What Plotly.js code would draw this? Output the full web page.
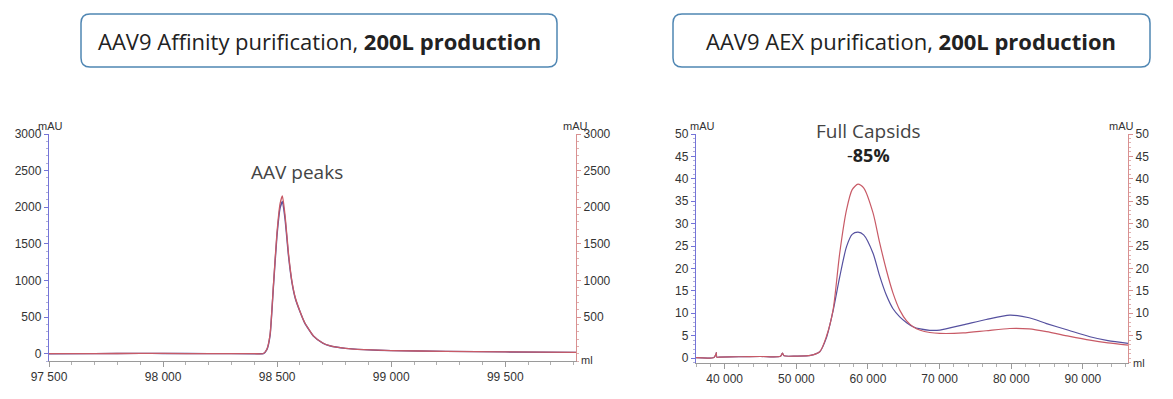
<!DOCTYPE html>
<html>
<head>
<meta charset="utf-8">
<script src="https://cdn.plot.ly/plotly-3.0.1.min.js"></script>
<style>html,body{margin:0;padding:0;background:#fff;}#chart{width:1173px;height:399px;}</style>
</head>
<body>
<div id="chart"></div>
<script>
// ---- Affinity chromatogram (ml, mAU) ----
const affVolume = [97500, 97700, 97900, 98000, 98200, 98400, 98440, 98455, 98469, 98484, 98499, 98513, 98523, 98535, 98550, 98565, 98580, 98600, 98620, 98660, 98700, 98730, 98800, 98880, 99000, 99240, 99500, 99810];
const affBlue   = [0, 1, 4, 3, 1, 0, 2, 55, 250, 930, 1600, 1990, 2078, 1830, 1330, 970, 750, 575, 425, 238, 145, 108, 72, 55, 42, 32, 24, 18];
const affRed    = [0, 1, 4, 3, 1, 0, 2, 60, 262, 950, 1640, 2050, 2155, 1880, 1360, 985, 760, 580, 430, 240, 146, 110, 73, 55, 42, 32, 24, 18];

// ---- AEX chromatogram (ml, mAU) ----
const aexVolume = [36000, 38500, 38800, 38840, 38900, 39200, 42000, 45000, 47800, 48060, 48300, 50000, 52000, 53270, 54200, 55130, 56060, 57000, 57800, 58617, 59400, 60710, 61600, 62580, 63500, 64440, 65400, 66300, 67300, 68630, 70030, 73280, 76500, 79800, 82500, 84930, 88000, 90980, 93500, 96300];
const aexBlue   = [0.1, 0.15, 0.9, 1.2, 0.2, 0.2, 0.3, 0.35, 0.4, 1.1, 0.5, 0.45, 0.6, 1.4, 4.5, 10.5, 18.1, 24.8, 27.6, 28.1, 27.5, 23.4, 18.5, 14.0, 11.0, 9.2, 7.9, 7.0, 6.5, 6.2, 6.25, 7.4, 8.6, 9.6, 9.0, 7.7, 6.2, 4.75, 3.9, 3.3];
const aexRed    = [0.1, 0.15, 0.9, 1.2, 0.2, 0.2, 0.3, 0.35, 0.4, 1.1, 0.5, 0.45, 0.6, 1.4, 4.8, 10.7, 23.4, 33.0, 37.6, 38.8, 38.0, 32.4, 26.0, 19.6, 14.5, 10.7, 8.3, 7.0, 6.2, 5.7, 5.5, 5.6, 6.1, 6.6, 6.5, 5.9, 4.9, 4.0, 3.4, 2.9];

// ---- tick labels ----
const affXTicks = [97500, 98000, 98500, 99000, 99500];
const affXLabels = ['97 500', '98 000', '98 500', '99 000', '99 500'];
const affYTicks = [0, 500, 1000, 1500, 2000, 2500, 3000];
const aexXTicks = [40000, 50000, 60000, 70000, 80000, 90000];
const aexXLabels = ['40 000', '50 000', '60 000', '70 000', '80 000', '90 000'];
const aexYTicks = [0, 5, 10, 15, 20, 25, 30, 35, 40, 45, 50];

const titleLeft = 'AAV9 Affinity purification, <b>200L production</b>';
const titleRight = 'AAV9 AEX purification, <b>200L production</b>';

const W = 1173, H = 399;
const px = v => v / W;
const py = v => 1 - v / H;

const BLUE = '#55509f', RED = '#c85a66';
const BLUEAX = '#7474d8', REDAX = '#d99090';
const tickFont = {family: 'Liberation Sans, Arial, sans-serif', size: 12, color: '#333'};
const textFont = 'Open Sans, Lato, sans-serif';

const traces = [
  {x: affVolume, y: affBlue, xaxis: 'x', yaxis: 'y', mode: 'lines', line: {color: BLUE, width: 1.4, shape: 'spline', smoothing: 0.5}, hoverinfo: 'skip'},
  {x: affVolume, y: affRed, xaxis: 'x', yaxis: 'y3', mode: 'lines', line: {color: RED, width: 1.3, shape: 'spline', smoothing: 0.5}, hoverinfo: 'skip'},
  {x: aexVolume, y: aexBlue, xaxis: 'x2', yaxis: 'y2', mode: 'lines', line: {color: BLUE, width: 1.2, shape: 'spline', smoothing: 0.7}, hoverinfo: 'skip'},
  {x: aexVolume, y: aexRed, xaxis: 'x2', yaxis: 'y4', mode: 'lines', line: {color: RED, width: 1.2, shape: 'spline', smoothing: 0.7}, hoverinfo: 'skip'}
];

function roundRect(x0, y0, x1, y1, r) {
  const rx = r / W, ry = r / H;
  const X0 = px(x0), X1 = px(x1), Y0 = py(y0), Y1 = py(y1);
  return `M ${X0 + rx} ${Y0} L ${X1 - rx} ${Y0} Q ${X1} ${Y0} ${X1} ${Y0 - ry} L ${X1} ${Y1 + ry} Q ${X1} ${Y1} ${X1 - rx} ${Y1} L ${X0 + rx} ${Y1} Q ${X0} ${Y1} ${X0} ${Y1 + ry} L ${X0} ${Y0 - ry} Q ${X0} ${Y0} ${X0 + rx} ${Y0} Z`;
}

const xBase = {showline: true, linecolor: '#9a9a9a', linewidth: 1, ticks: 'outside', ticklen: 5, tickcolor: '#9a9a9a', showgrid: false, zeroline: false, tickfont: tickFont, fixedrange: true};
const yBase = {showline: true, linewidth: 1.2, ticks: 'outside', ticklen: 4, showgrid: false, zeroline: false, tickfont: tickFont, fixedrange: true};

const layout = {
  width: W, height: H,
  margin: {l: 0, r: 0, t: 0, b: 0},
  paper_bgcolor: '#fff', plot_bgcolor: 'rgba(0,0,0,0)',
  showlegend: false,
  xaxis: Object.assign({}, xBase, {domain: [px(49), px(576)], range: [97500, 99810], anchor: 'y', tickvals: affXTicks, ticktext: affXLabels,
    minor: {dtick: 100, ticklen: 3, tickcolor: '#b0b0b0', ticks: 'outside'}}),
  yaxis: Object.assign({}, yBase, {domain: [1 - 361 / H, 1 - 134 / H], range: [-100, 3000], anchor: 'x', linecolor: BLUEAX, tickcolor: BLUEAX, tickvals: affYTicks,
    minor: {dtick: 100, ticklen: 2, tickcolor: '#b0b0d8', ticks: 'outside'}}),
  yaxis3: Object.assign({}, yBase, {overlaying: 'y', side: 'right', anchor: 'x', range: [-100, 3000], linecolor: REDAX, tickcolor: REDAX, tickvals: affYTicks.slice(1),
    minor: {dtick: 100, ticklen: 2, tickcolor: '#e0b0b0', ticks: 'outside'}}),
  xaxis2: Object.assign({}, xBase, {domain: [px(696), px(1128)], range: [36000, 96300], anchor: 'y2', tickvals: aexXTicks, ticktext: aexXLabels,
    minor: {dtick: 2000, ticklen: 3, tickcolor: '#b0b0b0', ticks: 'outside'}}),
  yaxis2: Object.assign({}, yBase, {domain: [1 - 363 / H, 1 - 134 / H], range: [-1.1, 50], anchor: 'x2', linecolor: BLUEAX, tickcolor: BLUEAX, tickvals: aexYTicks,
    minor: {dtick: 1, ticklen: 2, tickcolor: '#b0b0d8', ticks: 'outside'}}),
  yaxis4: Object.assign({}, yBase, {overlaying: 'y2', side: 'right', anchor: 'x2', range: [-1.1, 50], linecolor: REDAX, tickcolor: REDAX, tickvals: aexYTicks.slice(1),
    minor: {dtick: 1, ticklen: 2, tickcolor: '#e0b0b0', ticks: 'outside'}}),
  shapes: [
    {type: 'path', xref: 'paper', yref: 'paper', path: roundRect(81, 14, 557, 67, 9), line: {color: '#4f86b3', width: 1.5}, fillcolor: '#fff', layer: 'below'},
    {type: 'path', xref: 'paper', yref: 'paper', path: roundRect(673, 14, 1150, 67, 9), line: {color: '#4f86b3', width: 1.5}, fillcolor: '#fff', layer: 'below'}
  ],
  annotations: [
    {xref: 'paper', yref: 'paper', x: px(319), y: py(41), text: titleLeft, showarrow: false, xanchor: 'center', yanchor: 'middle', font: {family: textFont, size: 22, color: '#222'}},
    {xref: 'paper', yref: 'paper', x: px(911), y: py(41), text: titleRight, showarrow: false, xanchor: 'center', yanchor: 'middle', font: {family: textFont, size: 22, color: '#222'}},
    {xref: 'paper', yref: 'paper', x: px(297), y: py(172), text: 'AAV peaks', showarrow: false, xanchor: 'center', yanchor: 'middle', font: {family: textFont, size: 19, color: '#444'}},
    {xref: 'paper', yref: 'paper', x: px(868), y: py(131), text: 'Full Capsids', showarrow: false, xanchor: 'center', yanchor: 'middle', font: {family: textFont, size: 19, color: '#444'}},
    {xref: 'paper', yref: 'paper', x: px(868), y: py(155), text: '-<b>85%</b>', showarrow: false, xanchor: 'center', yanchor: 'middle', font: {family: textFont, size: 18, color: '#222'}},
    {xref: 'paper', yref: 'paper', x: px(50), y: py(126), text: 'mAU', showarrow: false, xanchor: 'center', yanchor: 'middle', font: {family: 'Liberation Sans, Arial, sans-serif', size: 11, color: '#333'}},
    {xref: 'paper', yref: 'paper', x: px(575), y: py(126), text: 'mAU', showarrow: false, xanchor: 'center', yanchor: 'middle', font: {family: 'Liberation Sans, Arial, sans-serif', size: 11, color: '#333'}},
    {xref: 'paper', yref: 'paper', x: px(579), y: py(360), text: 'ml', showarrow: false, xanchor: 'left', yanchor: 'middle', font: {family: 'Liberation Sans, Arial, sans-serif', size: 11, color: '#333'}},
    {xref: 'paper', yref: 'paper', x: px(703), y: py(126), text: 'mAU', showarrow: false, xanchor: 'center', yanchor: 'middle', font: {family: 'Liberation Sans, Arial, sans-serif', size: 11, color: '#333'}},
    {xref: 'paper', yref: 'paper', x: px(1121), y: py(126), text: 'mAU', showarrow: false, xanchor: 'center', yanchor: 'middle', font: {family: 'Liberation Sans, Arial, sans-serif', size: 11, color: '#333'}},
    {xref: 'paper', yref: 'paper', x: px(1131), y: py(363), text: 'ml', showarrow: false, xanchor: 'left', yanchor: 'middle', font: {family: 'Liberation Sans, Arial, sans-serif', size: 11, color: '#333'}}
  ]
};

Plotly.newPlot('chart', traces, layout, {staticPlot: true, displayModeBar: false});
</script>
</body>
</html>
